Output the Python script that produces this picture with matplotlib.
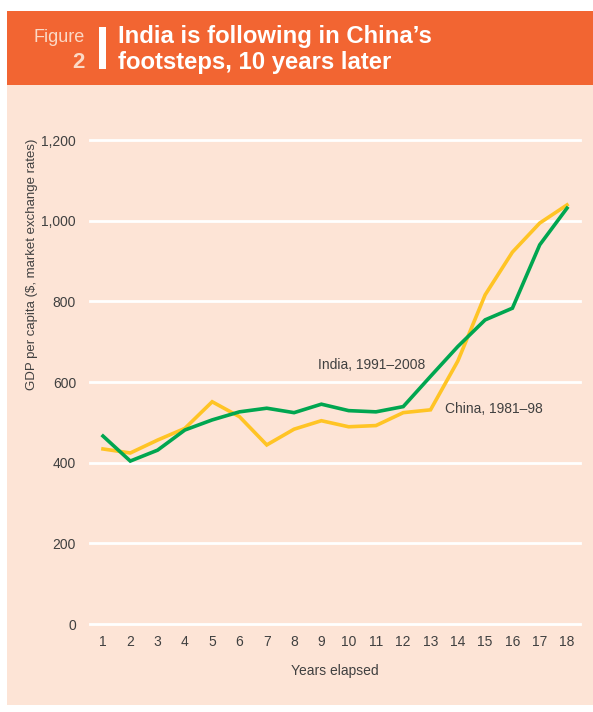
import matplotlib.pyplot as plt
from matplotlib.patches import Rectangle

# data
years = list(range(1, 19))
india = [466, 404, 431, 481, 506, 526, 535, 524, 545, 529, 526, 539, 614, 688, 754, 783, 940, 1031]
china = [434, 424, 456, 485, 551, 514, 444, 483, 504, 489, 492, 524, 531, 652, 816, 922, 994, 1039]
yticks = [0, 200, 400, 600, 800, 1000, 1200]
ytick_labels = ["0", "200", "400", "600", "800", "1,000", "1,200"]

orange = "#F26532"
peach = "#FDE4D6"
green = "#00A650"
yellow = "#FFC425"
grey = "#404040"

plt.rcParams['font.family'] = ['Liberation Sans', 'DejaVu Sans']

W, H = 593, 712
fig = plt.figure(figsize=(W / 100, H / 100), dpi=100)
fig.patch.set_facecolor("white")

# background panels
fig.add_artist(Rectangle((7 / W, 1 - 705 / H), 1, (705 - 85) / H, transform=fig.transFigure,
                         facecolor=peach, edgecolor="none", zorder=0))
fig.add_artist(Rectangle((7 / W, 1 - 85 / H), 1, 74 / H, transform=fig.transFigure,
                         facecolor=orange, edgecolor="none", zorder=0))
fig.add_artist(Rectangle((99 / W, 1 - 69 / H), 7 / W, 42 / H, transform=fig.transFigure,
                         facecolor="white", edgecolor="none", zorder=1))

# header text
fig.text(85 / W, 1 - 37 / H, "Figure", ha="right", va="center", color="#FBD9C6", fontsize=13)
fig.text(85 / W, 1 - 62 / H, "2", ha="right", va="center", color="#FBD9C6",
         fontsize=16, fontweight="bold")
fig.text(118 / W, 1 - 36 / H, "India is following in China\u2019s", ha="left", va="center",
         color="white", fontsize=17.2, fontweight="bold")
fig.text(118 / W, 1 - 62 / H, "footsteps, 10 years later", ha="left", va="center",
         color="white", fontsize=17.2, fontweight="bold")

ax = fig.add_axes([90 / W, 1 - 624 / H, (580 - 90) / W, (624 - 140) / H])
ax.set_facecolor("none")
ax.set_xlim(0.524, 18.476)
ax.set_ylim(0, 1200)

for yv in yticks:
    ax.axhline(yv, color="white", lw=2, zorder=1, clip_on=False)

ax.plot(years, china, color=yellow, lw=2.6, zorder=3, solid_joinstyle="miter", clip_on=False)
ax.plot(years, india, color=green, lw=2.6, zorder=4, solid_joinstyle="miter", clip_on=False)

for s in ax.spines.values():
    s.set_visible(False)
ax.set_yticks(yticks)
ax.set_yticklabels(ytick_labels)
ax.set_xticks(years)
ax.tick_params(length=0, labelsize=10, colors=grey, pad=10)
ax.tick_params(axis="x", pad=8)

ax.set_xlabel("Years elapsed", fontsize=10, color=grey, labelpad=11)
fig.text(32 / W, 1 - 264 / H, "GDP per capita ($, market exchange rates)", rotation=90,
         ha="center", va="center", fontsize=9.5, color=grey)

ax.annotate("India, 1991\u20132008", xy=(10.85, 643), fontsize=10, color=grey, ha="center", va="center")
ax.annotate("China, 1981\u201398", xy=(15.33, 534), fontsize=10, color=grey, ha="center", va="center")

fig.savefig("out.png", dpi=100)
